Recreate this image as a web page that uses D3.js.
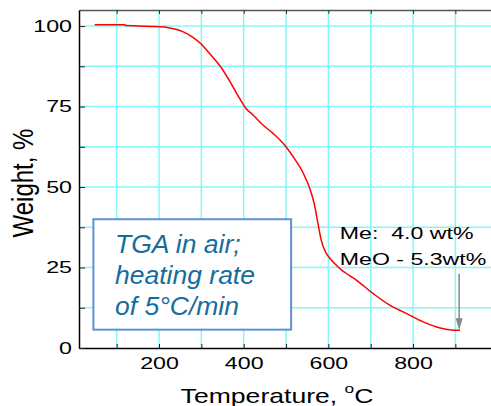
<!DOCTYPE html>
<html lang="en">
<head>
<meta charset="UTF-8">
<title>TGA in air</title>
<script src="https://d3js.org/d3.v7.min.js"></script>
<style>
    body { margin: 0; background: #fff; }
    svg { display: block; font-family: "Liberation Sans", Arial, sans-serif; }
</style>
</head>
<body>
<svg></svg>
<script>
    // weight loss curve
    const temps   = [48, 119, 121, 150, 180, 219, 240, 256, 280, 299, 320, 346, 374, 390, 405, 422, 446, 470, 497, 517, 541, 557, 567, 575, 583, 593, 604, 627, 667, 706, 745, 785, 824, 864, 885, 911];
    const weights = [100.45, 100.4, 100.15, 100.05, 99.9, 99.6, 99.0, 98.3, 96.5, 94.5, 91.4, 87.3, 81.3, 77.6, 74.5, 72.4, 69.2, 66.6, 63.0, 59.4, 54.2, 49.2, 44.6, 39.0, 33.6, 29.9, 27.8, 24.7, 21.0, 16.9, 13.3, 10.7, 8.1, 6.2, 5.7, 5.5];

    const xTicks = [100, 200, 300, 400, 500, 600, 700, 800, 900, 1000];
    const xLabels = [200, 400, 600, 800];
    const yTicks = [0, 12.5, 25, 37.5, 50, 62.5, 75, 87.5, 100];
    const yLabels = [0, 25, 50, 75, 100];

    const noteLines = ["Me:  4.0 wt%", "MeO - 5.3wt%"];
    const boxLines = ["TGA in air;", "heating rate", "of 5°C/min"];
    const arrowAt = { t: 909, from: 23.1, to: 5.5 };

    const width = 491, height = 406;
    const margin = { top: 10, left: 79, bottom: 58 };
    const gridColor = "#86f7f7";

    const svg = d3.select("svg").attr("width", width).attr("height", height);

    const x = d3.scaleLinear().domain([11, 1000]).range([margin.left, 497.7]);
    const y = d3.scaleLinear().domain([0, 105]).range([height - margin.bottom, margin.top]);
    const yBot = y(0), yTop = y(105);

    // grid
    svg.append("g").selectAll("line")
        .data(xTicks)
        .join("line")
        .attr("x1", d => x(d)).attr("x2", d => x(d))
        .attr("y1", yTop).attr("y2", yBot)
        .attr("stroke", gridColor).attr("stroke-width", 1.5);
    svg.append("g").selectAll("line")
        .data(yTicks.slice(1))
        .join("line")
        .attr("x1", margin.left).attr("x2", width)
        .attr("y1", d => y(d)).attr("y2", d => y(d))
        .attr("stroke", gridColor).attr("stroke-width", 1.5);

    // top frame
    svg.append("g")
        .attr("transform", `translate(0,${yTop})`)
        .call(d3.axisTop(x).tickValues(xTicks).tickSizeInner(-4).tickSizeOuter(0).tickFormat(""))
        .call(g => g.select(".domain").attr("stroke", "#555").attr("stroke-width", 1.5))
        .selectAll("line").attr("stroke", "#333");

    // x axis
    const xAxis = svg.append("g")
        .attr("transform", `translate(0,${yBot})`)
        .call(d3.axisBottom(x).tickValues(xTicks).tickSizeInner(-4).tickSizeOuter(0).tickPadding(10)
            .tickFormat(d => xLabels.includes(d) ? d : ""));
    xAxis.select(".domain").attr("stroke", "#000").attr("stroke-width", 1.5);
    xAxis.selectAll(".tick line").attr("stroke", "#222");
    xAxis.selectAll("text").attr("font-size", 16).attr("fill", "#000")
        .attr("font-family", "Liberation Sans, Arial, sans-serif")
        .attr("transform", "scale(1.45,1)");

    // y axis
    const yAxis = svg.append("g")
        .attr("transform", `translate(${margin.left},0)`)
        .call(d3.axisLeft(y).tickValues(yTicks).tickSizeInner(-6).tickSizeOuter(0).tickPadding(7 / 1.45)
            .tickFormat(d => yLabels.includes(d) ? d : ""));
    yAxis.select(".domain").attr("stroke", "#000").attr("stroke-width", 1.5);
    yAxis.selectAll(".tick line").attr("stroke", "#222");
    yAxis.selectAll("text").attr("font-size", 16).attr("fill", "#000")
        .attr("font-family", "Liberation Sans, Arial, sans-serif")
        .attr("transform", "scale(1.45,1)");

    // curve
    const data = temps.map((t, i) => ({ t, w: weights[i] }));
    svg.append("path")
        .datum(data)
        .attr("fill", "none")
        .attr("stroke", "#f00")
        .attr("stroke-width", 1.5)
        .attr("d", d3.line().x(d => x(d.t)).y(d => y(d.w)).curve(d3.curveMonotoneX));

    // axis titles
    const xt = svg.append("text")
        .attr("transform", "translate(277,403) scale(1.33,1)")
        .attr("text-anchor", "middle")
        .attr("font-size", 20);
    xt.append("tspan").text("Temperature, ");
    xt.append("tspan").attr("font-size", 13).attr("dy", -10).text("o");
    xt.append("tspan").attr("dy", 10).text("C");

    svg.append("text")
        .attr("transform", "translate(33,183) scale(1.2,1) rotate(-90)")
        .attr("text-anchor", "middle")
        .attr("font-size", 24)
        .text("Weight, %");

    // annotation
    svg.selectAll(".note")
        .data(noteLines)
        .join("text")
        .attr("class", "note")
        .attr("transform", (d, i) => `translate(${x(627)},${y(i === 0 ? 34 : 25.7)}) scale(1.42,1)`)
        .attr("font-size", 16.3)
        .style("white-space", "pre")
        .text(d => d);

    const ax = x(arrowAt.t), ay0 = y(arrowAt.from), ay1 = y(arrowAt.to);
    svg.append("line")
        .attr("x1", ax).attr("x2", ax)
        .attr("y1", ay0).attr("y2", ay1 - 10)
        .attr("stroke", "#888").attr("stroke-width", 1.5);
    svg.append("path")
        .attr("d", `M${ax - 3.5},${ay1 - 12}L${ax + 3.5},${ay1 - 12}L${ax},${ay1}Z`)
        .attr("fill", "#888");

    // legend box
    svg.append("rect")
        .attr("x", x(45)).attr("y", y(40))
        .attr("width", x(512) - x(45)).attr("height", y(5.7) - y(40))
        .attr("fill", "#fff")
        .attr("stroke", "#5e90d6")
        .attr("stroke-width", 2);
    svg.selectAll(".box")
        .data(boxLines)
        .join("text")
        .attr("class", "box")
        .attr("x", 115)
        .attr("y", (d, i) => [253.3, 284, 315][i])
        .attr("font-size", 26.5)
        .attr("font-style", "italic")
        .attr("fill", "#166c9c")
        .text(d => d);
</script>
</body>
</html>
